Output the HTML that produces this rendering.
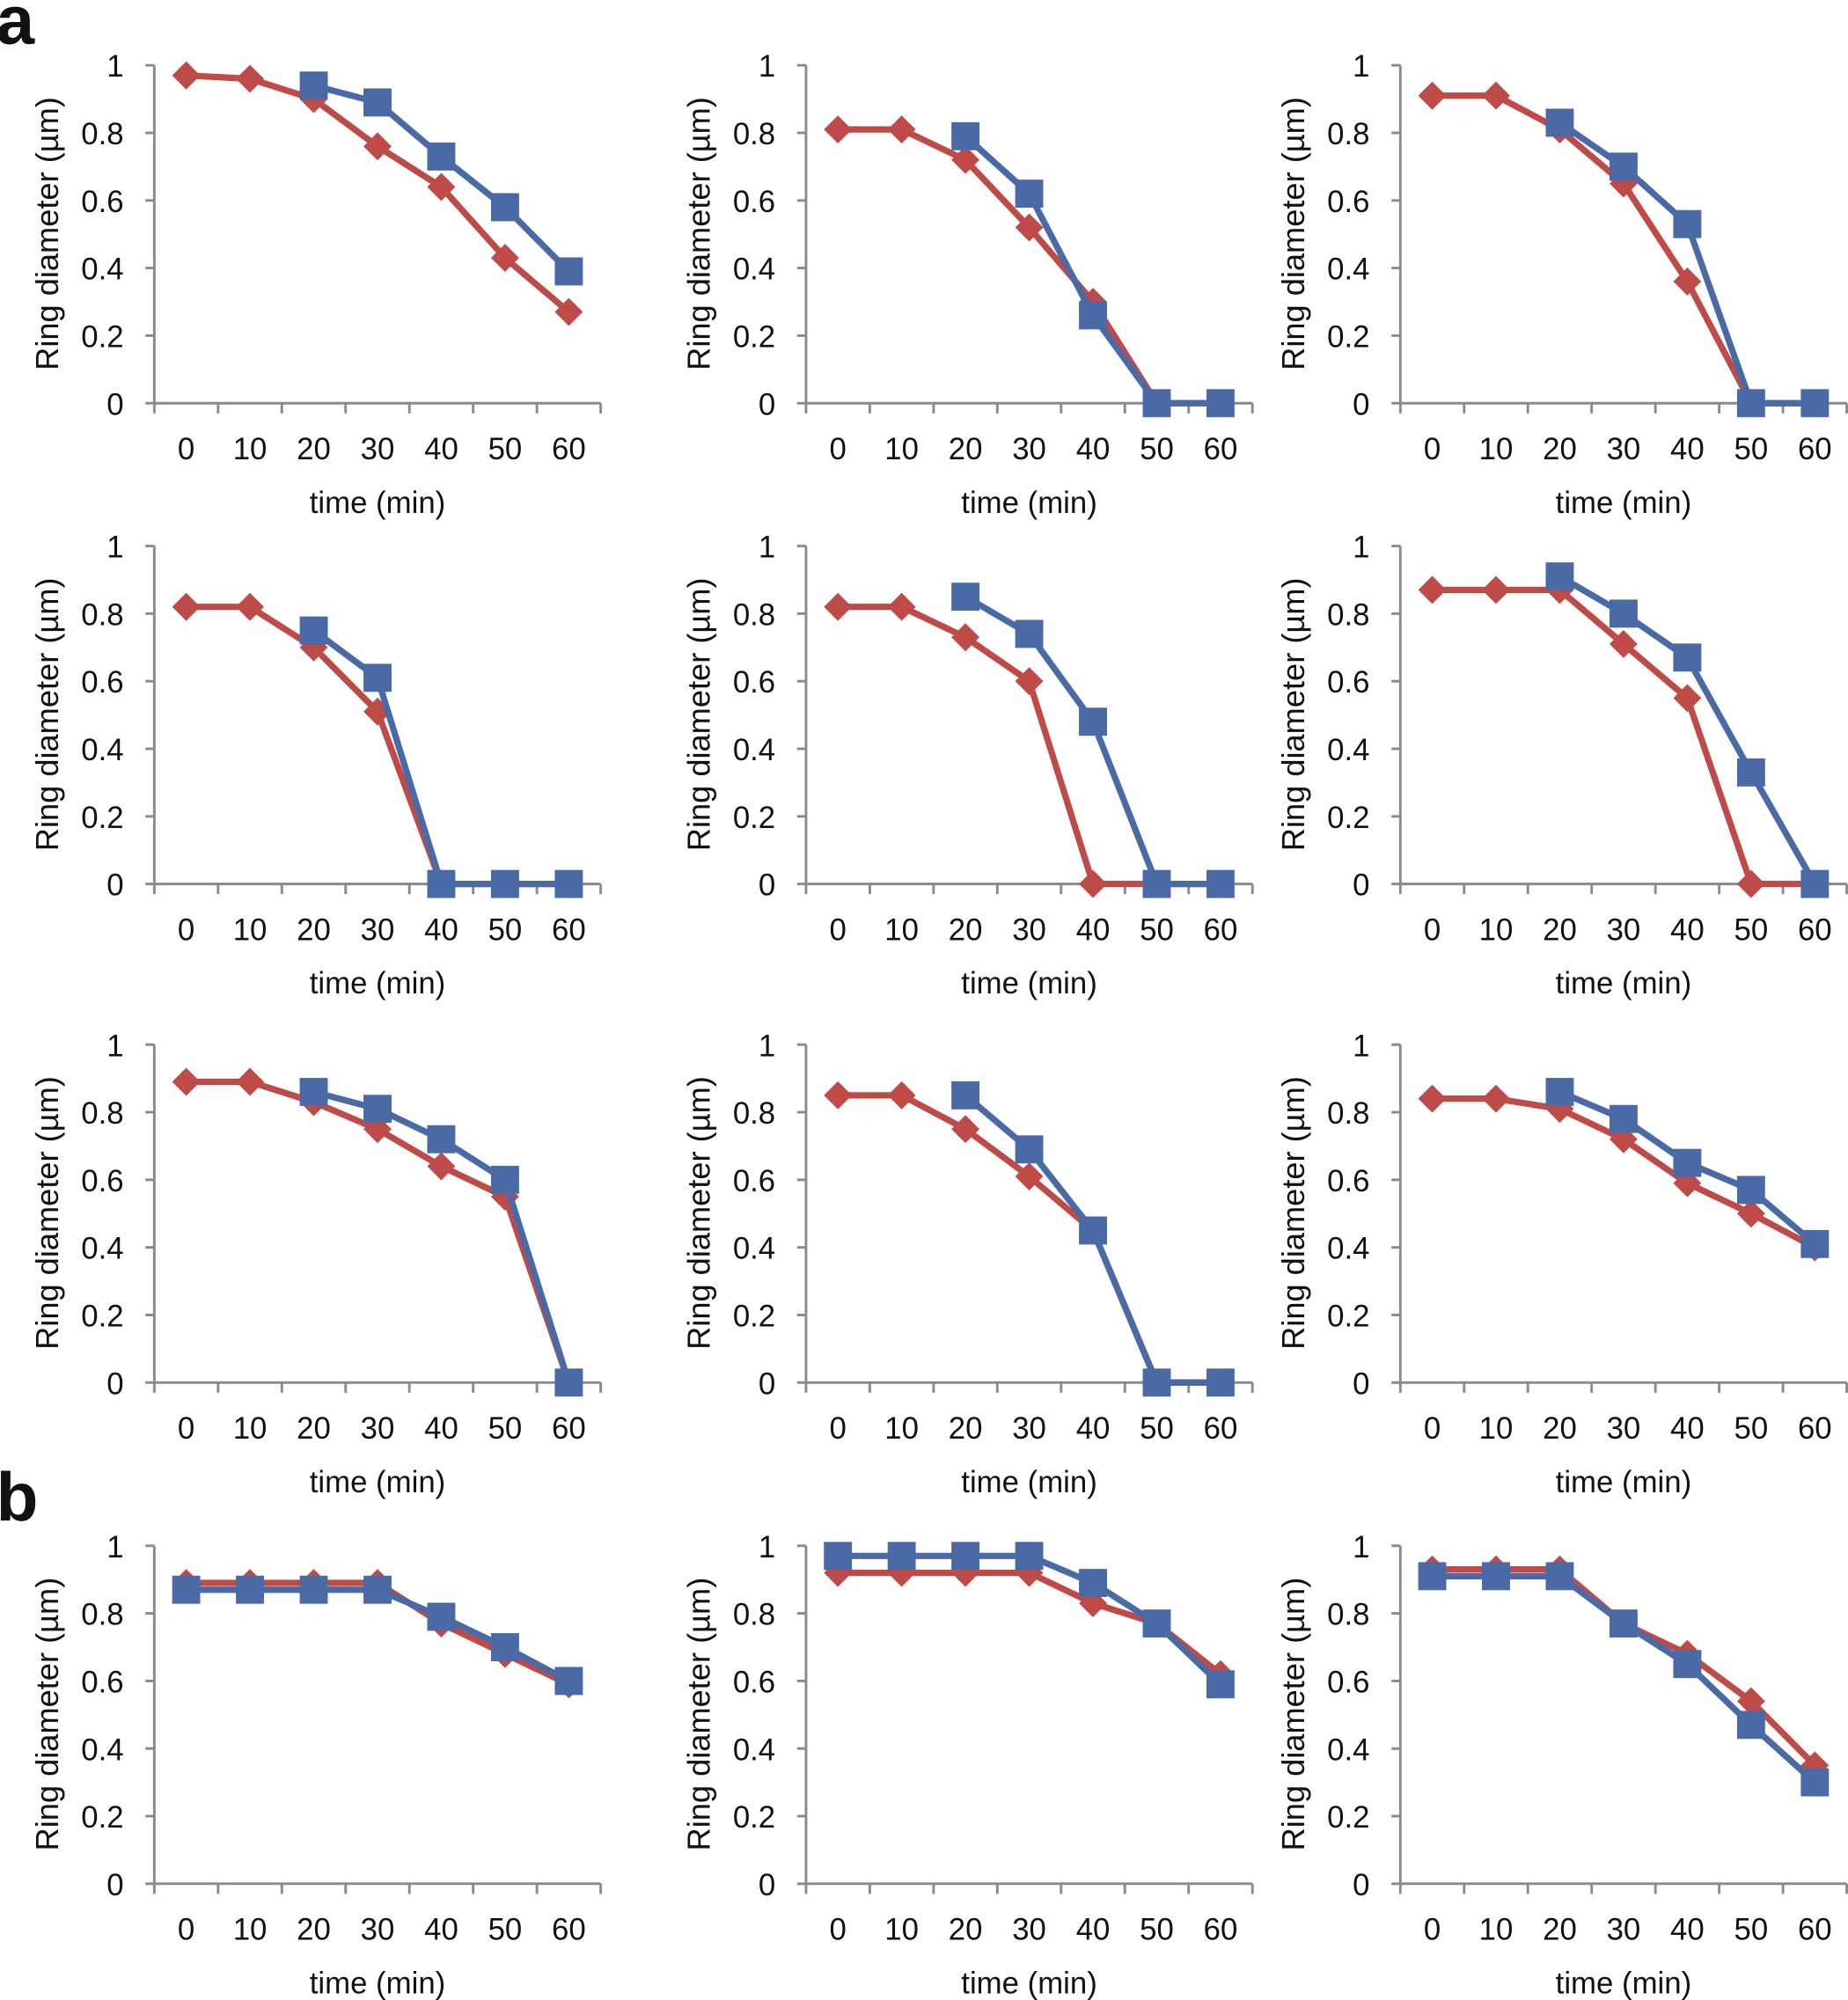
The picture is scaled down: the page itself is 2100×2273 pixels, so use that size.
<!DOCTYPE html>
<html><head><meta charset="utf-8"><style>
html,body{margin:0;padding:0;background:#fff}
svg{display:block}
text{font-family:"Liberation Sans",sans-serif;fill:#111}
.t{font-size:24px}
.yt{font-size:25px}
</style></head><body>
<svg id="s" width="2100" height="2273" viewBox="0 0 1449 1568" xmlns="http://www.w3.org/2000/svg">
<rect width="1449" height="1568" fill="#fff"/>
<text x="-3" y="34" style="font-size:54px;font-weight:bold">a</text>
<text x="-3" y="1192" style="font-size:54px;font-weight:bold">b</text>
<g id="c0" transform="translate(121,51)"><g class="t">
<text x="-24" y="9" text-anchor="end">1</text><text x="-24" y="62" text-anchor="end">0.8</text><text x="-24" y="115" text-anchor="end">0.6</text><text x="-24" y="168" text-anchor="end">0.4</text><text x="-24" y="221" text-anchor="end">0.2</text><text x="-24" y="274" text-anchor="end">0</text>
<text x="25" y="309" text-anchor="middle">0</text><text x="75" y="309" text-anchor="middle">10</text><text x="125" y="309" text-anchor="middle">20</text><text x="175" y="309" text-anchor="middle">30</text><text x="225" y="309" text-anchor="middle">40</text><text x="275" y="309" text-anchor="middle">50</text><text x="325" y="309" text-anchor="middle">60</text>
<text x="175" y="351" text-anchor="middle">time (min)</text>
<text class="yt" transform="translate(-84,132) rotate(-90)" text-anchor="middle" dominant-baseline="central">Ring diameter (µm)</text></g></g>
<g id="c1" transform="translate(632,51)"><g class="t">
<text x="-24" y="9" text-anchor="end">1</text><text x="-24" y="62" text-anchor="end">0.8</text><text x="-24" y="115" text-anchor="end">0.6</text><text x="-24" y="168" text-anchor="end">0.4</text><text x="-24" y="221" text-anchor="end">0.2</text><text x="-24" y="274" text-anchor="end">0</text>
<text x="25" y="309" text-anchor="middle">0</text><text x="75" y="309" text-anchor="middle">10</text><text x="125" y="309" text-anchor="middle">20</text><text x="175" y="309" text-anchor="middle">30</text><text x="225" y="309" text-anchor="middle">40</text><text x="275" y="309" text-anchor="middle">50</text><text x="325" y="309" text-anchor="middle">60</text>
<text x="175" y="351" text-anchor="middle">time (min)</text>
<text class="yt" transform="translate(-84,132) rotate(-90)" text-anchor="middle" dominant-baseline="central">Ring diameter (µm)</text></g></g>
<g id="c2" transform="translate(1098,51)"><g class="t">
<text x="-24" y="9" text-anchor="end">1</text><text x="-24" y="62" text-anchor="end">0.8</text><text x="-24" y="115" text-anchor="end">0.6</text><text x="-24" y="168" text-anchor="end">0.4</text><text x="-24" y="221" text-anchor="end">0.2</text><text x="-24" y="274" text-anchor="end">0</text>
<text x="25" y="309" text-anchor="middle">0</text><text x="75" y="309" text-anchor="middle">10</text><text x="125" y="309" text-anchor="middle">20</text><text x="175" y="309" text-anchor="middle">30</text><text x="225" y="309" text-anchor="middle">40</text><text x="275" y="309" text-anchor="middle">50</text><text x="325" y="309" text-anchor="middle">60</text>
<text x="175" y="351" text-anchor="middle">time (min)</text>
<text class="yt" transform="translate(-84,132) rotate(-90)" text-anchor="middle" dominant-baseline="central">Ring diameter (µm)</text></g></g>
<g id="c3" transform="translate(121,428)"><g class="t">
<text x="-24" y="9" text-anchor="end">1</text><text x="-24" y="62" text-anchor="end">0.8</text><text x="-24" y="115" text-anchor="end">0.6</text><text x="-24" y="168" text-anchor="end">0.4</text><text x="-24" y="221" text-anchor="end">0.2</text><text x="-24" y="274" text-anchor="end">0</text>
<text x="25" y="309" text-anchor="middle">0</text><text x="75" y="309" text-anchor="middle">10</text><text x="125" y="309" text-anchor="middle">20</text><text x="175" y="309" text-anchor="middle">30</text><text x="225" y="309" text-anchor="middle">40</text><text x="275" y="309" text-anchor="middle">50</text><text x="325" y="309" text-anchor="middle">60</text>
<text x="175" y="351" text-anchor="middle">time (min)</text>
<text class="yt" transform="translate(-84,132) rotate(-90)" text-anchor="middle" dominant-baseline="central">Ring diameter (µm)</text></g></g>
<g id="c4" transform="translate(632,428)"><g class="t">
<text x="-24" y="9" text-anchor="end">1</text><text x="-24" y="62" text-anchor="end">0.8</text><text x="-24" y="115" text-anchor="end">0.6</text><text x="-24" y="168" text-anchor="end">0.4</text><text x="-24" y="221" text-anchor="end">0.2</text><text x="-24" y="274" text-anchor="end">0</text>
<text x="25" y="309" text-anchor="middle">0</text><text x="75" y="309" text-anchor="middle">10</text><text x="125" y="309" text-anchor="middle">20</text><text x="175" y="309" text-anchor="middle">30</text><text x="225" y="309" text-anchor="middle">40</text><text x="275" y="309" text-anchor="middle">50</text><text x="325" y="309" text-anchor="middle">60</text>
<text x="175" y="351" text-anchor="middle">time (min)</text>
<text class="yt" transform="translate(-84,132) rotate(-90)" text-anchor="middle" dominant-baseline="central">Ring diameter (µm)</text></g></g>
<g id="c5" transform="translate(1098,428)"><g class="t">
<text x="-24" y="9" text-anchor="end">1</text><text x="-24" y="62" text-anchor="end">0.8</text><text x="-24" y="115" text-anchor="end">0.6</text><text x="-24" y="168" text-anchor="end">0.4</text><text x="-24" y="221" text-anchor="end">0.2</text><text x="-24" y="274" text-anchor="end">0</text>
<text x="25" y="309" text-anchor="middle">0</text><text x="75" y="309" text-anchor="middle">10</text><text x="125" y="309" text-anchor="middle">20</text><text x="175" y="309" text-anchor="middle">30</text><text x="225" y="309" text-anchor="middle">40</text><text x="275" y="309" text-anchor="middle">50</text><text x="325" y="309" text-anchor="middle">60</text>
<text x="175" y="351" text-anchor="middle">time (min)</text>
<text class="yt" transform="translate(-84,132) rotate(-90)" text-anchor="middle" dominant-baseline="central">Ring diameter (µm)</text></g></g>
<g id="c6" transform="translate(121,819)"><g class="t">
<text x="-24" y="9" text-anchor="end">1</text><text x="-24" y="62" text-anchor="end">0.8</text><text x="-24" y="115" text-anchor="end">0.6</text><text x="-24" y="168" text-anchor="end">0.4</text><text x="-24" y="221" text-anchor="end">0.2</text><text x="-24" y="274" text-anchor="end">0</text>
<text x="25" y="309" text-anchor="middle">0</text><text x="75" y="309" text-anchor="middle">10</text><text x="125" y="309" text-anchor="middle">20</text><text x="175" y="309" text-anchor="middle">30</text><text x="225" y="309" text-anchor="middle">40</text><text x="275" y="309" text-anchor="middle">50</text><text x="325" y="309" text-anchor="middle">60</text>
<text x="175" y="351" text-anchor="middle">time (min)</text>
<text class="yt" transform="translate(-84,132) rotate(-90)" text-anchor="middle" dominant-baseline="central">Ring diameter (µm)</text></g></g>
<g id="c7" transform="translate(632,819)"><g class="t">
<text x="-24" y="9" text-anchor="end">1</text><text x="-24" y="62" text-anchor="end">0.8</text><text x="-24" y="115" text-anchor="end">0.6</text><text x="-24" y="168" text-anchor="end">0.4</text><text x="-24" y="221" text-anchor="end">0.2</text><text x="-24" y="274" text-anchor="end">0</text>
<text x="25" y="309" text-anchor="middle">0</text><text x="75" y="309" text-anchor="middle">10</text><text x="125" y="309" text-anchor="middle">20</text><text x="175" y="309" text-anchor="middle">30</text><text x="225" y="309" text-anchor="middle">40</text><text x="275" y="309" text-anchor="middle">50</text><text x="325" y="309" text-anchor="middle">60</text>
<text x="175" y="351" text-anchor="middle">time (min)</text>
<text class="yt" transform="translate(-84,132) rotate(-90)" text-anchor="middle" dominant-baseline="central">Ring diameter (µm)</text></g></g>
<g id="c8" transform="translate(1098,819)"><g class="t">
<text x="-24" y="9" text-anchor="end">1</text><text x="-24" y="62" text-anchor="end">0.8</text><text x="-24" y="115" text-anchor="end">0.6</text><text x="-24" y="168" text-anchor="end">0.4</text><text x="-24" y="221" text-anchor="end">0.2</text><text x="-24" y="274" text-anchor="end">0</text>
<text x="25" y="309" text-anchor="middle">0</text><text x="75" y="309" text-anchor="middle">10</text><text x="125" y="309" text-anchor="middle">20</text><text x="175" y="309" text-anchor="middle">30</text><text x="225" y="309" text-anchor="middle">40</text><text x="275" y="309" text-anchor="middle">50</text><text x="325" y="309" text-anchor="middle">60</text>
<text x="175" y="351" text-anchor="middle">time (min)</text>
<text class="yt" transform="translate(-84,132) rotate(-90)" text-anchor="middle" dominant-baseline="central">Ring diameter (µm)</text></g></g>
<g id="c9" transform="translate(121,1212)"><g class="t">
<text x="-24" y="9" text-anchor="end">1</text><text x="-24" y="62" text-anchor="end">0.8</text><text x="-24" y="115" text-anchor="end">0.6</text><text x="-24" y="168" text-anchor="end">0.4</text><text x="-24" y="221" text-anchor="end">0.2</text><text x="-24" y="274" text-anchor="end">0</text>
<text x="25" y="309" text-anchor="middle">0</text><text x="75" y="309" text-anchor="middle">10</text><text x="125" y="309" text-anchor="middle">20</text><text x="175" y="309" text-anchor="middle">30</text><text x="225" y="309" text-anchor="middle">40</text><text x="275" y="309" text-anchor="middle">50</text><text x="325" y="309" text-anchor="middle">60</text>
<text x="175" y="351" text-anchor="middle">time (min)</text>
<text class="yt" transform="translate(-84,132) rotate(-90)" text-anchor="middle" dominant-baseline="central">Ring diameter (µm)</text></g></g>
<g id="c10" transform="translate(632,1212)"><g class="t">
<text x="-24" y="9" text-anchor="end">1</text><text x="-24" y="62" text-anchor="end">0.8</text><text x="-24" y="115" text-anchor="end">0.6</text><text x="-24" y="168" text-anchor="end">0.4</text><text x="-24" y="221" text-anchor="end">0.2</text><text x="-24" y="274" text-anchor="end">0</text>
<text x="25" y="309" text-anchor="middle">0</text><text x="75" y="309" text-anchor="middle">10</text><text x="125" y="309" text-anchor="middle">20</text><text x="175" y="309" text-anchor="middle">30</text><text x="225" y="309" text-anchor="middle">40</text><text x="275" y="309" text-anchor="middle">50</text><text x="325" y="309" text-anchor="middle">60</text>
<text x="175" y="351" text-anchor="middle">time (min)</text>
<text class="yt" transform="translate(-84,132) rotate(-90)" text-anchor="middle" dominant-baseline="central">Ring diameter (µm)</text></g></g>
<g id="c11" transform="translate(1098,1212)"><g class="t">
<text x="-24" y="9" text-anchor="end">1</text><text x="-24" y="62" text-anchor="end">0.8</text><text x="-24" y="115" text-anchor="end">0.6</text><text x="-24" y="168" text-anchor="end">0.4</text><text x="-24" y="221" text-anchor="end">0.2</text><text x="-24" y="274" text-anchor="end">0</text>
<text x="25" y="309" text-anchor="middle">0</text><text x="75" y="309" text-anchor="middle">10</text><text x="125" y="309" text-anchor="middle">20</text><text x="175" y="309" text-anchor="middle">30</text><text x="225" y="309" text-anchor="middle">40</text><text x="275" y="309" text-anchor="middle">50</text><text x="325" y="309" text-anchor="middle">60</text>
<text x="175" y="351" text-anchor="middle">time (min)</text>
<text class="yt" transform="translate(-84,132) rotate(-90)" text-anchor="middle" dominant-baseline="central">Ring diameter (µm)</text></g></g>
</svg>
<script>
var N=null;
var D=[
[[.97,.96,.90,.76,.64,.43,.27],[N,N,.94,.89,.73,.58,.39]],
[[.81,.81,.72,.52,.30,0,0],[N,N,.79,.62,.26,0,0]],
[[.91,.91,.81,.65,.36,0,0],[N,N,.83,.70,.53,0,0]],
[[.82,.82,.70,.51,0,0,0],[N,N,.75,.61,0,0,0]],
[[.82,.82,.73,.60,0,0,0],[N,N,.85,.74,.48,0,0]],
[[.87,.87,.87,.71,.55,0,0],[N,N,.91,.80,.67,.33,0]],
[[.89,.89,.83,.75,.64,.55,0],[N,N,.86,.81,.72,.60,0]],
[[.85,.85,.75,.61,.45,0,0],[N,N,.85,.69,.45,0,0]],
[[.84,.84,.81,.72,.59,.50,.40],[N,N,.86,.78,.65,.57,.41]],
[[.89,.89,.89,.89,.77,.68,.59],[.87,.87,.87,.87,.79,.70,.60]],
[[.92,.92,.92,.92,.83,.77,.62],[.97,.97,.97,.97,.89,.77,.59]],
[[.93,.93,.93,.77,.68,.54,.35],[.91,.91,.91,.77,.65,.47,.30]]];
var NS="http://www.w3.org/2000/svg";
function el(g,n,a){var e=document.createElementNS(NS,n);for(var k in a)e.setAttribute(k,a[k]);g.appendChild(e);return e;}
D.forEach(function(d,i){
 var g=document.getElementById("c"+i);
 var ax=el(g,"g",{stroke:"#8a8a8a","stroke-width":2,fill:"none"});
 el(ax,"path",{d:"M0,0V265H350"});
 for(var j=0;j<6;j++)el(ax,"path",{d:"M-7,"+(j*53)+"H0"});
 for(var j=0;j<8;j++)el(ax,"path",{d:"M"+(j*50)+",265v8"});
 var cols=["#BE4B48","#4A6AA5"];
 [0,1].forEach(function(s){
  var pts=[];d[s].forEach(function(v,k){if(v!==null)pts.push([25+50*k,265-265*v]);});
  el(g,"polyline",{points:pts.map(function(p){return p.join(",")}).join(" "),fill:"none",stroke:cols[s],"stroke-width":5,"stroke-linejoin":"round"});
  pts.forEach(function(p){
   if(s==0)el(g,"path",{d:"M"+p[0]+","+(p[1]-11)+"l11,11l-11,11l-11,-11z",fill:cols[0]});
   else el(g,"rect",{x:p[0]-11,y:p[1]-11,width:22,height:22,fill:cols[1]});
  });
 });
});
</script>
</body></html>
